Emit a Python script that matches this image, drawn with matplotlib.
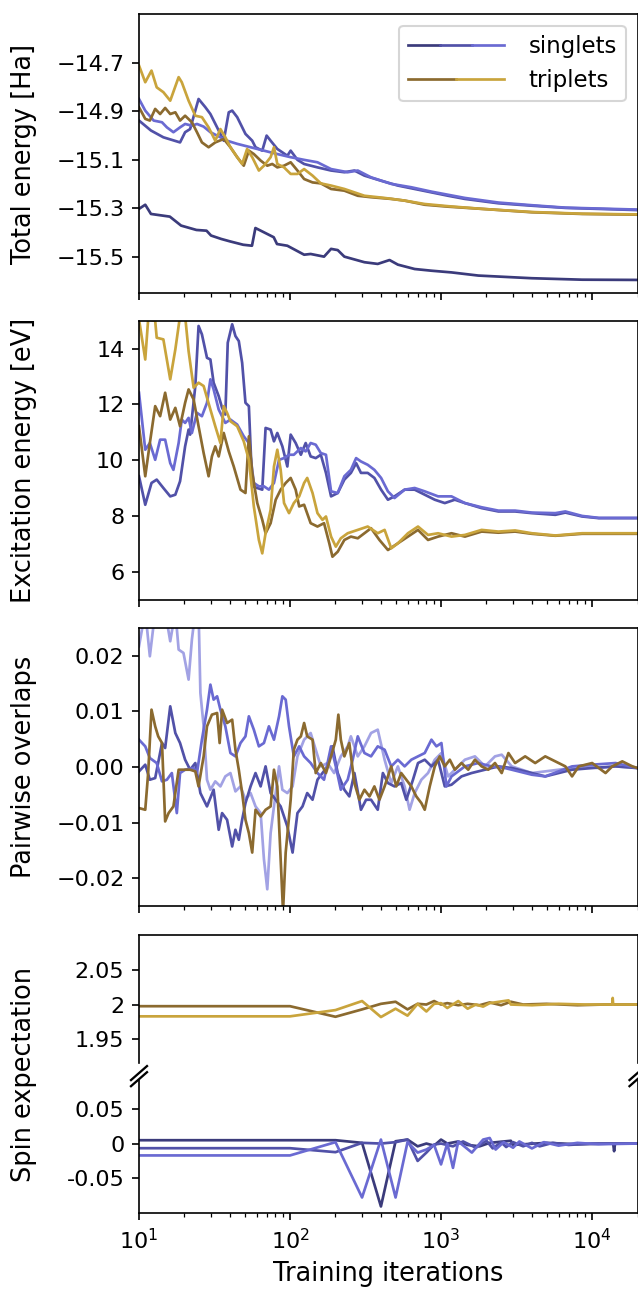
import matplotlib
matplotlib.use("Agg")
import matplotlib.pyplot as plt
from matplotlib.lines import Line2D
from matplotlib.legend_handler import HandlerBase

# colours
c_s0 = '#3b3b7b'
c_s1 = '#5151a8'
c_s2 = '#6a6ad2'
c_s2_pale = '#a2a2e4'
c_t0 = '#8b6a2f'
c_t1 = '#c9a43c'

# ---------------- total energy [Ha] ----------------
etot_s0_it = [10, 11, 12, 16, 19, 24, 28, 30, 35, 40, 49, 56, 59, 64, 78, 82, 96, 124, 137, 168,
              187, 207, 229, 311, 381, 456, 518, 669, 864, 1173, 1765, 3994, 8594, 20000]
etot_s0 = [-15.303, -15.286, -15.324, -15.335, -15.372, -15.390, -15.393, -15.413, -15.427, -15.437,
           -15.451, -15.455, -15.382, -15.393, -15.420, -15.448, -15.455, -15.492, -15.489, -15.500,
           -15.468, -15.473, -15.500, -15.523, -15.530, -15.514, -15.533, -15.551, -15.558, -15.565,
           -15.578, -15.589, -15.595, -15.596]

etot_s1_it = [10, 12, 14.5, 18.7, 20.2, 21.8, 24.8, 27.5, 29.7, 32.9, 36.4, 39.3, 41.4, 44.7, 50.7,
              56.2, 59.1, 65.5, 70, 74.4, 82.4, 96, 101, 112, 124, 152, 187, 229, 267, 311, 401, 518,
              669, 864, 1114, 1439, 2397, 3994, 6656, 20000]
etot_s1 = [-14.939, -14.980, -15.008, -15.029, -14.987, -14.974, -14.850, -14.884, -14.912, -14.967,
           -15.022, -14.905, -14.898, -14.925, -14.994, -15.022, -15.049, -15.063, -15.001, -15.022,
           -15.056, -15.084, -15.063, -15.101, -15.118, -15.132, -15.145, -15.152, -15.145, -15.166,
           -15.187, -15.207, -15.221, -15.235, -15.249, -15.262, -15.280, -15.290, -15.299, -15.308]

etot_s2_it = [10, 11, 12.5, 14.2, 15.3, 16.9, 18.7, 20.2, 22.4, 24.2, 26.8, 29.7, 32.9, 38.3, 44.7,
              54.8, 67.2, 82.4, 101, 124, 152, 187, 241, 281, 344, 468, 636, 864, 1439, 2397, 3994,
              6656, 20000]
etot_s2 = [-14.850, -14.898, -14.939, -14.946, -14.967, -14.987, -14.967, -14.953, -14.960, -14.953,
           -14.964, -14.987, -15.001, -15.022, -15.035, -15.049, -15.063, -15.077, -15.090, -15.101,
           -15.111, -15.139, -15.152, -15.145, -15.173, -15.200, -15.214, -15.232, -15.258, -15.277,
           -15.288, -15.298, -15.306]

etot_t0_it = [10, 11, 11.8, 12.8, 13.8, 14.9, 16.1, 17.4, 18.7, 20.2, 22.4, 24.2, 26.1, 28.9, 32.0,
              36.4, 40.3, 44.7, 49.4, 53.4, 57.6, 63.9, 70.7, 76.3, 82.4, 91.3, 101, 112, 124, 141,
              160, 187, 229, 281, 344, 468, 574, 780, 1114, 1857, 3994, 8594, 20000]
etot_t0 = [-14.884, -14.932, -14.939, -14.891, -14.912, -14.887, -14.912, -14.905, -14.939, -14.919,
           -14.946, -14.987, -15.029, -15.049, -15.029, -15.015, -15.049, -15.090, -15.125, -15.063,
           -15.077, -15.104, -15.125, -15.118, -15.132, -15.125, -15.111, -15.145, -15.180, -15.194,
           -15.198, -15.221, -15.228, -15.249, -15.255, -15.262, -15.269, -15.286, -15.294, -15.303,
           -15.317, -15.324, -15.327]

etot_t1_it = [10, 11, 12.1, 13.1, 14.5, 16.1, 18.3, 19.2, 21.3, 23.6, 26.1, 28.9, 32.0, 34.6, 37.3,
              40.3, 44.7, 48.2, 52.0, 56.2, 62.2, 67.2, 74.4, 78.3, 82.4, 91.3, 101, 112, 124, 141,
              160, 187, 229, 311, 423, 574, 780, 1114, 1857, 3994, 8594, 20000]
etot_t1 = [-14.712, -14.781, -14.733, -14.802, -14.822, -14.857, -14.760, -14.781, -14.857, -14.919,
           -14.925, -14.967, -15.022, -14.974, -15.008, -15.049, -15.090, -15.118, -15.056, -15.090,
           -15.145, -15.125, -15.090, -15.049, -15.118, -15.132, -15.159, -15.159, -15.139, -15.166,
           -15.198, -15.207, -15.221, -15.249, -15.258, -15.269, -15.283, -15.292, -15.303, -15.316,
           -15.323, -15.326]

# ---------------- excitation energy [eV] ----------------
exc_s1_it = [10, 11, 12.1, 13.1, 14.5, 16.1, 17.4, 18.7, 20.2, 21.3, 21.8, 23.6, 24.8, 26.1, 28.2,
             29.7, 31.2, 33.7, 35.5, 37.3, 38.7, 41.4, 43.5, 45.8, 48.2, 50.7, 53.4, 56.2, 60.7, 65.5,
             68.9, 74.4, 78.3, 82.4, 89.0, 96.0, 101, 109, 118, 127, 137, 148, 160, 173, 187, 207,
             229, 253, 274, 295, 327, 362, 401, 445, 492, 574, 669, 780, 909, 1059, 1234, 1439,
             1857, 2397, 3094, 3994, 5711, 6656, 8594, 11092, 20000]
exc_s1 = [9.43, 8.41, 9.19, 9.31, 9.01, 8.71, 8.77, 9.25, 10.50, 11.10,
          10.92, 12.66, 14.81, 14.51, 13.67, 13.61, 12.78, 12.30, 11.88, 11.64,
          14.21, 14.87, 14.45, 14.27, 13.49, 12.06, 11.94, 9.07, 9.01, 8.95,
          11.16, 11.10, 10.68, 10.98, 10.50, 9.78, 10.92, 10.62, 10.20, 10.62,
          10.14, 10.08, 10.20, 9.55, 8.71, 8.83, 9.31, 9.55, 9.90, 9.55,
          9.55, 9.37, 8.95, 8.59, 8.71, 8.95, 8.95, 8.77, 8.59, 8.47,
          8.59, 8.47, 8.29, 8.17, 8.17, 8.11, 8.05, 8.13, 7.99, 7.93, 7.93]

exc_s2_it = [10, 11, 11.8, 12.8, 13.8, 14.9, 16.1, 16.9, 18.3, 19.2, 20.2, 21.3, 22.4, 24.2, 26.1,
             28.2, 29.7, 31.2, 33.7, 37.3, 40.3, 44.7, 49.4, 53.4, 57.6, 62.2, 67.2, 72.5, 78.3,
             84.6, 91.3, 98.5, 106, 118, 127, 137, 148, 160, 173, 187, 207, 229, 253, 274, 295,
             327, 362, 401, 445, 492, 574, 669, 780, 956, 1173, 1439, 1857, 2397, 3094, 3994, 5711,
             6656, 8594, 11092, 20000]
exc_s2 = [12.42, 10.38, 10.62, 10.02, 10.74, 10.74, 9.90, 9.66, 10.62, 11.46,
          11.34, 11.52, 10.98, 11.70, 11.58, 12.06, 12.90, 12.54, 11.82, 11.34,
          11.46, 11.28, 10.86, 10.62, 9.19, 9.07, 9.07, 8.95, 9.19, 10.02,
          10.08, 10.20, 10.20, 10.44, 10.32, 10.62, 10.56, 10.26, 10.20, 8.89,
          8.83, 9.43, 9.66, 10.08, 9.96, 9.84, 9.66, 9.37, 8.89, 8.65,
          8.95, 9.01, 8.89, 8.71, 8.71, 8.47, 8.32, 8.20, 8.20, 8.13,
          8.11, 8.17, 8.01, 7.94, 7.94]

exc_t0_it = [10, 11, 11.8, 12.8, 13.8, 14.9, 16.1, 17.4, 18.7, 20.2, 21.3, 23.0, 24.8, 26.8, 28.9,
             30.4, 32.0, 33.7, 36.4, 39.3, 42.4, 47.0, 50.7, 53.4, 56.2, 60.7, 65.5, 68.9, 74.4,
             80.4, 86.7, 93.6, 101, 109, 115, 124, 137, 152, 168, 182, 191, 207, 229, 253, 281,
             311, 344, 391, 445, 518, 604, 704, 820, 956, 1173, 1439, 1857, 2397, 3094, 3994, 5711,
             8594, 20000]
exc_t0 = [11.22, 9.43, 10.62, 11.94, 11.58, 12.42, 11.46, 11.88, 11.22, 12.06,
          12.54, 12.18, 11.22, 10.26, 9.43, 10.14, 10.50, 10.14, 10.98, 10.32,
          9.78, 8.95, 8.83, 10.86, 9.55, 8.47, 7.87, 7.39, 7.75, 8.59,
          8.95, 9.19, 9.37, 8.95, 8.35, 8.41, 7.75, 7.63, 7.75, 7.03,
          6.55, 6.73, 7.15, 7.27, 7.21, 7.39, 7.57, 7.15, 6.79, 7.03,
          7.27, 7.51, 7.15, 7.27, 7.39, 7.27, 7.45, 7.41, 7.45, 7.37,
          7.30, 7.37, 7.37]

exc_t1_it = [10, 11, 11.5, 12.8, 13.1, 14.5, 16.1, 17.4, 18.7, 20.2, 21.3, 23.0, 24.8, 26.8, 29.7,
             32.0, 34.6, 36.4, 38.3, 40.3, 44.7, 49.4, 53.4, 57.6, 62.2, 65.5, 68.9, 74.4, 78.3,
             82.4, 86.7, 91.3, 98.5, 106, 115, 124, 130, 141, 152, 164, 173, 187, 201, 217, 241,
             281, 327, 381, 423, 468, 518, 604, 704, 820, 956, 1173, 1439, 1857, 2397, 3094, 3994,
             5711, 8594, 20000]
exc_t1 = [15.05, 13.61, 15.05, 14.99, 14.39, 14.33, 12.90, 13.97, 15.17, 15.17,
          13.91, 12.60, 12.78, 12.66, 11.82, 11.22, 10.62, 11.94, 11.70, 11.40,
          11.22, 10.68, 10.02, 8.35, 7.15, 6.67, 7.39, 8.23, 9.78, 10.38,
          9.66, 8.47, 8.11, 8.47, 8.71, 9.19, 9.37, 8.83, 8.11, 7.87,
          7.99, 7.27, 6.91, 7.21, 7.39, 7.51, 7.63, 7.39, 7.51, 6.85,
          7.03, 7.39, 7.63, 7.33, 7.39, 7.27, 7.33, 7.51, 7.45, 7.49,
          7.39, 7.31, 7.39, 7.39]

# ---------------- pairwise overlaps ----------------
ovl_a_it = [10, 11, 11.8, 12.8, 14.9, 16.1, 17.4, 18.3, 19.7, 21.3, 22.4, 23.6, 24.8, 25.5, 26.8,
            28.2, 29.7, 32.0, 34.6, 37.3, 40.3, 43.5, 47.0, 50.7, 54.8, 59.1, 63.9, 67.2, 70.7,
            74.4, 78.3, 84.6, 89.0, 96.0, 104, 112, 124, 137, 148, 160, 177, 196, 217, 241, 253,
            281, 311, 344, 381, 423, 468, 518, 574, 619, 669, 741, 820, 909, 1006, 1114, 1299,
            1439, 1677, 1954, 2277, 2522, 2940, 3427, 3994, 4899, 6010, 7373, 9044, 11092, 14320,
            20000]
ovl_a = [0.0217, 0.028, 0.0199, 0.028, 0.028, 0.0226, 0.028, 0.0211, 0.0205, 0.0157,
         0.0229, 0.028, 0.028, 0.0133, 0.0073, -0.0023, -0.0041, -0.0026, -0.0035, -0.0017,
         -0.0011, -0.0044, -0.0035, -0.0059, -0.0047, -0.0071, -0.0083, -0.0166, -0.0220, -0.0119,
         -0.0071, 0.0001, -0.0041, -0.0047, -0.0035, 0.0019, 0.0049, 0.0061, 0.0031, 0.0001,
         0.0007, -0.0011, 0.0019, 0.0037, 0.0055, 0.0019, 0.0037, 0.0061, 0.0067, 0.0013,
         -0.0029, 0.0001, -0.0035, -0.0077, -0.0047, -0.0023, -0.0011, 0.0013, 0.0025, -0.0017,
         0.0001, 0.0013, 0.0019, 0.0001, 0.0019, 0.0022, 0.0001, -0.0005, -0.0011, -0.0008,
         -0.0005, -0.0002, 0.0001, -0.0002, 0.0001, -0.0002]

ovl_b_it = [10, 11, 11.8, 12.8, 14.2, 14.9, 16.1, 17.4, 18.7, 20.2, 21.8, 23.6, 25.5, 28.2, 31.2,
            33.7, 35.5, 38.3, 41.4, 43.5, 45.8, 48.2, 50.7, 54.8, 59.1, 63.9, 68.9, 74.4, 80.4,
            86.7, 96.0, 104, 112, 121, 130, 141, 152, 164, 177, 191, 207, 229, 247, 267, 295, 319,
            344, 381, 412, 445, 492, 545, 589, 652, 704, 780, 864, 956, 1059, 1173, 1367, 1593,
            1954, 2397, 2940, 3994, 4899, 6010, 7373, 10015, 14320, 20000]
ovl_b = [-0.0008, 0.0004, -0.0023, -0.0020, 0.0043, 0.0034, 0.0109, 0.0061, 0.0043, 0.0013,
         -0.0005, 0.0007, -0.0047, -0.0071, -0.0041, -0.0113, -0.0083, -0.0095, -0.0143, -0.0113,
         -0.0131, -0.0095, -0.0065, -0.0035, -0.0011, -0.0035, 0.0001, -0.0047, -0.0059, -0.0071,
         -0.0107, -0.0154, -0.0083, -0.0071, -0.0047, -0.0059, -0.0023, -0.0011, 0.0001, 0.0037,
         -0.0011, -0.0041, -0.0053, -0.0011, -0.0077, -0.0059, -0.0059, -0.0077, -0.0011, -0.0029,
         -0.0035, -0.0029, -0.0059, -0.0023, 0.0007, 0.0013, 0.0001, 0.0013, -0.0035, -0.0032,
         -0.0017, -0.0011, -0.0005, 0.0001, -0.0002, -0.0011, -0.0017, -0.0011, -0.0005, -0.0002,
         0.0001, -0.0002]

ovl_c_it = [10, 11, 11.8, 13.1, 14.2, 15.3, 16.5, 17.8, 18.7, 20.2, 23.0, 24.2, 26.1, 28.2, 29.7,
            31.2, 32.9, 34.6, 37.3, 40.3, 43.5, 47.0, 50.7, 53.4, 57.6, 62.2, 67.2, 72.5, 78.3,
            84.6, 89.0, 93.6, 98.5, 106, 115, 124, 137, 152, 168, 187, 201, 217, 241, 260, 281,
            311, 344, 381, 423, 468, 518, 574, 636, 704, 780, 864, 932, 1006, 1086, 1173, 1439,
            1765, 2164, 2655, 3256, 3994, 4899, 6010, 7373, 10015, 14320, 20000]
ovl_c = [0.0049, 0.0037, 0.0016, 0.0007, -0.0026, -0.0023, -0.0011, -0.0083, -0.0011, -0.0005,
         -0.0002, -0.0011, 0.0049, 0.0103, 0.0148, 0.0121, 0.0127, 0.0103, 0.0073, 0.0025,
         0.0019, 0.0043, 0.0055, 0.0091, 0.0067, 0.0037, 0.0043, 0.0073, 0.0049, 0.0091,
         0.0127, 0.0121, 0.0073, 0.0019, 0.0037, 0.0019, 0.0007, -0.0011, -0.0023, 0.0037,
         0.0001, -0.0041, -0.0023, 0.0013, 0.0055, 0.0025, 0.0019, 0.0037, 0.0031, 0.0001,
         0.0013, 0.0001, 0.0013, 0.0019, 0.0025, 0.0049, 0.0037, 0.0043, -0.0035, -0.0017,
         0.0001, 0.0007, 0.0001, -0.0002, -0.0008, -0.0014, -0.0017, -0.0008, 0.0001, 0.0004,
         0.0007, -0.0002]

ovl_t_it = [10, 11, 11.5, 12.1, 12.8, 13.4, 14.2, 14.9, 15.7, 16.9, 18.3, 20.2, 21.8, 23.6, 24.8,
            26.1, 26.8, 28.2, 30.4, 32.9, 34.2, 35.5, 38.3, 41.4, 43.5, 45.8, 48.2, 50.7, 53.4,
            56.2, 59.1, 63.9, 68.9, 74.4, 78.3, 82.4, 86.7, 89.9, 93.6, 101, 106, 112, 118, 124,
            130, 141, 148, 160, 173, 187, 201, 209, 217, 229, 247, 267, 288, 311, 336, 362, 391,
            423, 468, 505, 545, 589, 636, 686, 741, 780, 842, 909, 981, 1059, 1143, 1234, 1367,
            1514, 1677, 1857, 2056, 2277, 2522, 2794, 3094, 3606, 4203, 4899, 5711, 6656, 7373,
            8167, 10015, 12286, 13608, 15860, 18490, 20000]
ovl_t = [-0.0074, -0.0077, -0.0011, 0.0103, 0.0073, 0.0055, 0.0043, -0.0098, -0.0083, -0.0071,
         -0.0005, -0.0005, -0.0005, -0.0008, -0.0035, 0.0001, 0.0019, 0.0073, 0.0094, 0.0097,
         0.0043, 0.0103, 0.0079, 0.0085, 0.0031, -0.0005, -0.0047, -0.0095, -0.0119, -0.0154,
         -0.0077, -0.0089, -0.0077, -0.0071, -0.0005, -0.0035, -0.0166, -0.0260, -0.0154, -0.0059,
         0.0031, 0.0049, 0.0055, 0.0079, 0.0055, 0.0049, -0.0011, 0.0007, -0.0011, 0.0019,
         0.0049, 0.0094, 0.0049, 0.0019, 0.0043, -0.0029, -0.0059, -0.0041, -0.0053, -0.0035,
         -0.0059, -0.0035, 0.0001, -0.0035, -0.0011, -0.0023, -0.0035, -0.0053, -0.0065, -0.0077,
         -0.0035, 0.0001, 0.0019, 0.0001, 0.0013, -0.0005, 0.0007, -0.0005, 0.0013, 0.0001,
         -0.0005, 0.0007, -0.0011, 0.0025, 0.0007, 0.0019, 0.0007, 0.0019, 0.0010, 0.0001,
         -0.0017, 0.0001, 0.0007, -0.0011, 0.0001, 0.0010, 0.0001, -0.0002]

# ---------------- spin expectation ----------------
spin_t0_it = [10, 100, 200, 300, 400, 500, 600, 700, 800, 900, 1000, 1100, 1300, 1500, 1800, 2100,
              2500, 2900, 3500, 5000, 8000, 12000, 20000]
spin_t0 = [1.9976, 1.9976, 1.9824, 1.993, 2.001, 2.004, 1.993, 2.001, 2.0, 2.005, 2.0, 2.002,
           1.999, 2.001, 1.999, 2.003, 1.999, 2.004, 2.0, 2.001, 1.999, 2.0, 2.0]

spin_t1_it = [10, 100, 200, 300, 400, 500, 600, 700, 800, 900, 1000, 1100, 1300, 1500, 1700, 1900,
              2100, 2800, 2900, 4000, 6000, 9000, 13600, 13700, 13800, 20000]
spin_t1 = [1.983, 1.983, 1.992, 2.005, 1.982, 1.994, 1.984, 2.001, 1.990, 2.001, 2.002, 1.995,
           2.005, 1.994, 2.0, 1.997, 2.002, 2.006, 2.0, 1.999, 2.001, 2.0, 2.0, 2.0095, 2.0, 2.0]

spin_s0_it = [10, 200, 300, 400, 500, 600, 700, 800, 900, 1000, 1100, 1300, 1500, 1800, 2100,
              2900, 3000, 5000, 8000, 13800, 14000, 14200, 20000]
spin_s0 = [0.0048, 0.0048, 0.001, -0.0905, 0.0033, 0.0057, -0.004, 0.0, -0.003, 0.0057, 0.0,
           0.003, -0.002, -0.004, 0.001, 0.004, -0.002, 0.001, -0.001, 0.0, -0.011, 0.0, 0.0]

spin_s1_it = [10, 100, 200, 300, 400, 500, 600, 700, 800, 900, 1000, 1200, 1400, 1700, 2000, 2200,
              2500, 2700, 3000, 3500, 4000, 4500, 5500, 7000, 10000, 20000]
spin_s1 = [-0.0067, -0.0067, -0.0124, 0.001, 0.0, 0.002, 0.0057, -0.025, -0.013, -0.0014, 0.0,
           -0.004, 0.003, -0.006, 0.004, -0.007, 0.002, -0.005, 0.002, -0.004, 0.001, -0.004,
           0.001, -0.002, 0.0, 0.0]

spin_s2_it = [10, 100, 200, 300, 400, 500, 600, 700, 800, 900, 1000, 1100, 1200, 1300, 1600, 1900,
              2100, 2300, 2600, 3000, 3300, 4000, 4800, 6000, 8000, 11000, 20000]
spin_s2 = [-0.0171, -0.0171, 0.002, -0.0776, 0.0057, -0.0776, 0.002, -0.013, -0.0086, -0.002,
           -0.030, 0.0, -0.035, 0.003, -0.013, 0.0057, 0.008, -0.0086, 0.002, -0.006, 0.003,
           -0.007, 0.002, -0.003, 0.001, -0.001, 0.0]

# ---------------- figure ----------------
plt.rcParams['xtick.labelsize'] = 10.7
plt.rcParams['ytick.labelsize'] = 10.7
lab_fs = 12.3
lw = 1.3
fig = plt.figure(figsize=(638 / 150, 1292 / 150), dpi=150)
L, W = 139 / 638, 498.5 / 638
ax1 = fig.add_axes([L, 0.7732, W, 0.2159])
ax2 = fig.add_axes([L, 0.5356, W, 0.2162])
ax3 = fig.add_axes([L, 0.2988, W, 0.2152])
ax_hi = fig.add_axes([L, 0.1687, W, 0.1076])
ax_lo = fig.add_axes([L, 0.0611, W, 0.1076])

ax1.plot(etot_s0_it, etot_s0, color=c_s0, lw=lw)
ax1.plot(etot_s1_it, etot_s1, color=c_s1, lw=lw)
ax1.plot(etot_s2_it, etot_s2, color=c_s2, lw=lw)
ax1.plot(etot_t0_it, etot_t0, color=c_t0, lw=lw)
ax1.plot(etot_t1_it, etot_t1, color=c_t1, lw=lw)
ax1.set_ylim(-15.65, -14.5)
ax1.set_yticks([-14.7, -14.9, -15.1, -15.3, -15.5])
ax1.set_ylabel('Total energy [Ha]', fontsize=lab_fs)

ax2.plot(exc_s1_it, exc_s1, color=c_s1, lw=lw)
ax2.plot(exc_s2_it, exc_s2, color=c_s2, lw=lw)
ax2.plot(exc_t0_it, exc_t0, color=c_t0, lw=lw)
ax2.plot(exc_t1_it, exc_t1, color=c_t1, lw=lw)
ax2.set_ylim(5, 15)
ax2.set_yticks([6, 8, 10, 12, 14])
ax2.set_ylabel('Excitation energy [eV]', fontsize=lab_fs)

ax3.plot(ovl_a_it, ovl_a, color=c_s2_pale, lw=lw)
ax3.plot(ovl_b_it, ovl_b, color=c_s1, lw=lw)
ax3.plot(ovl_c_it, ovl_c, color=c_s2, lw=lw)
ax3.plot(ovl_t_it, ovl_t, color=c_t0, lw=lw)
ax3.set_ylim(-0.025, 0.025)
ax3.set_yticks([-0.02, -0.01, 0.0, 0.01, 0.02])
ax3.set_ylabel('Pairwise overlaps', fontsize=lab_fs)

ax_hi.plot(spin_t0_it, spin_t0, color=c_t0, lw=lw)
ax_hi.plot(spin_t1_it, spin_t1, color=c_t1, lw=lw)
ax_hi.set_ylim(1.9, 2.1)
ax_hi.set_yticks([1.95, 2.0, 2.05])
ax_hi.set_yticklabels(['1.95', '2', '2.05'])

ax_lo.plot(spin_s0_it, spin_s0, color=c_s0, lw=lw)
ax_lo.plot(spin_s1_it, spin_s1, color=c_s1, lw=lw)
ax_lo.plot(spin_s2_it, spin_s2, color=c_s2, lw=lw)
ax_lo.set_ylim(-0.1, 0.1)
ax_lo.set_yticks([-0.05, 0.0, 0.05])
ax_lo.set_yticklabels(['-0.05', '0', '0.05'])
ax_lo.set_xlabel('Training iterations', fontsize=lab_fs)
ax_hi.set_ylabel('Spin expectation', fontsize=lab_fs)

for ax in (ax1, ax2, ax3, ax_hi, ax_lo):
    ax.set_xscale('log')
    ax.set_xlim(10, 20000)
for ax in (ax1, ax2, ax3):
    ax.tick_params(axis='x', which='both', labelbottom=False)
    ax.yaxis.set_label_coords(-0.205, 0.5)
ax_hi.yaxis.set_label_coords(-0.205, 0.0)

# broken axis
ax_hi.spines['bottom'].set_visible(False)
ax_hi.tick_params(axis='x', which='both', bottom=False, labelbottom=False)
ax_lo.spines['top'].set_visible(False)
for side in ('left', 'right'):
    ax_hi.spines[side].set_bounds(1.916, 2.1)
    ax_lo.spines[side].set_bounds(-0.1, 0.091)
dx, dy = 8 / 498.5, 7 / 139
for xb in (0, 1):
    for off in (-0.022, 0.022):
        yb = 1.0 + off - 0.015
        ax_lo.plot([xb - dx, xb + dx], [yb - dy, yb + dy], color='k', lw=1.1,
                   transform=ax_lo.transAxes, clip_on=False)


# legend with multi coloured handles
class MultiLine:
    def __init__(self, colors):
        self.colors = colors


class MultiLineHandler(HandlerBase):
    def create_artists(self, legend, orig_handle, xdescent, ydescent, width, height,
                       fontsize, trans):
        n = len(orig_handle.colors)
        seg = width / n
        y = (height - ydescent) / 2
        arts = []
        for i, c in enumerate(orig_handle.colors):
            arts.append(Line2D([i * seg - xdescent, (i + 1) * seg - xdescent], [y, y],
                               color=c, lw=lw, transform=trans))
        return arts


ax1.legend([MultiLine([c_s0, c_s1, c_s2]), MultiLine([c_t0, c_t1])], ['singlets', 'triplets'],
           handler_map={MultiLine: MultiLineHandler()}, loc='upper right', fontsize=11,
           handlelength=4.2, handletextpad=1.05, labelspacing=0.5)

fig.savefig('out.png', dpi=150)
